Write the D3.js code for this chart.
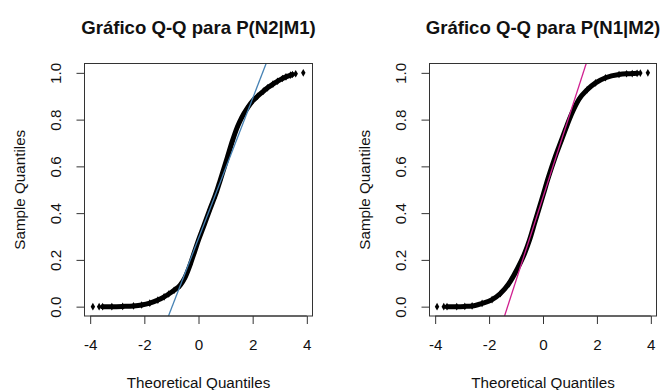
<!DOCTYPE html>
<html>
<head>
<meta charset="utf-8">
<script src="https://cdn.jsdelivr.net/npm/d3@7"></script>
<style>
  body { margin: 0; background: #fff; }
  svg { display: block; font-family: "Liberation Sans", Arial, sans-serif; }
</style>
</head>
<body>
<svg id="chart" width="663" height="390"></svg>
<script>
// Theoretical / sample quantiles

// P(N2|M1)
const theo1 = [-3.90, -3.67, -3.54, -3.2, -2.8, -2.4, -2.1, -1.8, -1.5, -1.27, -1.1, -0.9, -0.674, -0.5, -0.3, -0.16, 0,
    0.21, 0.4, 0.58, 0.674, 0.8, 1.07, 1.25, 1.44, 1.6, 1.81, 2.0, 2.18, 2.4, 2.55, 2.75, 2.92, 3.1, 3.23, 3.4, 3.47, 3.59, 3.87];
const samp1 = [0.000, 0.000, 0.000, 0.000, 0.001, 0.003, 0.007, 0.015, 0.028, 0.042, 0.054, 0.070, 0.092, 0.124, 0.182, 0.230, 0.285,
    0.350, 0.410, 0.464, 0.494, 0.540, 0.640, 0.708, 0.770, 0.810, 0.850, 0.880, 0.900, 0.922, 0.936, 0.952, 0.964, 0.976, 0.983, 0.990, 0.993, 0.996, 1.000];
const quart1 = [0.090, 0.494];   // qqline through 1st / 3rd quartile

// P(N1|M2)
const theo2 = [-3.93, -3.68, -3.56, -3.2, -2.9, -2.63, -2.26, -1.89, -1.58, -1.27, -0.96, -0.674, -0.5, -0.3, 0,
    0.2, 0.46, 0.674, 0.83, 1.08, 1.33, 1.64, 1.95, 2.32, 2.82, 3.1, 3.31, 3.49, 3.61, 3.89];
const samp2 = [0.000, 0.000, 0.000, 0.000, 0.001, 0.003, 0.014, 0.030, 0.056, 0.098, 0.160, 0.230, 0.285, 0.362, 0.476,
    0.553, 0.643, 0.709, 0.757, 0.829, 0.886, 0.928, 0.957, 0.979, 0.993, 0.996, 0.997, 0.998, 0.999, 1.000];
const quart2 = [0.228, 0.709];

const xTicks = [-4, -2, 0, 2, 4];
const yTicks = [0, 0.2, 0.4, 0.6, 0.8, 1.0];

const panels = [
    { title: "Gráfico Q-Q para P(N2|M1)", theo: theo1, samp: samp1, quart: quart1, color: "#4682B4", left: 84.5, right: 312.5 },
    { title: "Gráfico Q-Q para P(N1|M2)", theo: theo2, samp: samp2, quart: quart2, color: "#D02090", left: 429.5, right: 656.5 }
];

const svg = d3.select("#chart");
const plotTop = 63.5, plotBottom = 316;
const q75 = 0.6744898;
const fontSize = 15.2;

panels.forEach((p, i) => {
    const g = svg.append("g");

    const x = d3.scaleLinear().domain([-4.21, 4.21]).range([p.left, p.right]);
    const y = d3.scaleLinear().domain([-0.04, 1.04]).range([plotBottom, plotTop]);

    const clipId = "clip" + i;
    g.append("clipPath").attr("id", clipId)
        .append("rect")
        .attr("x", p.left).attr("y", plotTop)
        .attr("width", p.right - p.left).attr("height", plotBottom - plotTop);

    // points: dense band drawn as a thick line, tails as separate diamonds
    const pts = p.theo.map((t, k) => [t, p.samp[k]]);
    const band = pts.slice(2, pts.length - 2);

    const line = d3.line()
        .x(d => x(d[0]))
        .y(d => y(d[1]))
        .curve(d3.curveMonotoneX);

    g.append("path")
        .attr("d", line(band))
        .attr("fill", "none")
        .attr("stroke", "#000")
        .attr("stroke-width", 5)
        .attr("stroke-linecap", "round")
        .attr("stroke-linejoin", "round");

    g.selectAll(".pt")
        .data(pts)
        .enter().append("path")
        .attr("class", "pt")
        .attr("d", d3.symbol().type(d3.symbolDiamond).size(17))
        .attr("transform", d => `translate(${x(d[0])},${y(d[1])})`)
        .attr("fill", "#000");

    // qqline through the quartiles
    const slope = (p.quart[1] - p.quart[0]) / (2 * q75);
    const icpt = p.quart[0] + slope * q75;
    g.append("line")
        .attr("clip-path", `url(#${clipId})`)
        .attr("x1", x(-5)).attr("y1", y(icpt - 5 * slope))
        .attr("x2", x(5)).attr("y2", y(icpt + 5 * slope))
        .attr("stroke", p.color)
        .attr("stroke-width", 1.3);

    // box
    g.append("rect")
        .attr("x", p.left).attr("y", plotTop)
        .attr("width", p.right - p.left).attr("height", plotBottom - plotTop)
        .attr("fill", "none")
        .attr("stroke", "#333")
        .attr("stroke-width", 1);

    // x axis
    const xAxis = d3.axisBottom(x).tickValues(xTicks).tickSize(8).tickPadding(15)
        .tickFormat(d => d < 0 ? "-" + Math.abs(d) : d);
    const gx = g.append("g").attr("transform", `translate(0,${plotBottom})`).call(xAxis);
    gx.select(".domain").attr("d", `M${x(-4)},0H${x(4)}`).attr("stroke", "#333");
    gx.selectAll(".tick line").attr("stroke", "#333");
    gx.selectAll("text").attr("font-size", fontSize).attr("fill", "#111")
        .attr("font-family", "Liberation Sans, Arial, sans-serif");

    // y axis
    const yAxis = d3.axisLeft(y).tickValues(yTicks).tickSize(8).tickFormat(d3.format(".1f"));
    const gy = g.append("g").attr("transform", `translate(${p.left},0)`).call(yAxis);
    gy.select(".domain").attr("d", `M0,${y(0)}V${y(1)}`).attr("stroke", "#333");
    gy.selectAll(".tick line").attr("stroke", "#333");
    gy.selectAll("text")
        .attr("font-size", fontSize).attr("fill", "#111")
        .attr("font-family", "Liberation Sans, Arial, sans-serif")
        .attr("x", 0).attr("dy", 0)
        .attr("text-anchor", "middle")
        .attr("transform", "translate(-28.5,0) rotate(-90) translate(0,5)");

    const cx = (p.left + p.right) / 2;

    // title
    svg.append("text")
        .attr("x", cx).attr("y", 33.5)
        .attr("text-anchor", "middle")
        .attr("font-size", 18.6)
        .attr("font-weight", "bold")
        .attr("fill", "#111")
        .text(p.title);

    // axis labels
    svg.append("text")
        .attr("x", cx).attr("y", 387.5)
        .attr("text-anchor", "middle")
        .attr("font-size", fontSize)
        .attr("fill", "#111")
        .text("Theoretical Quantiles");

    svg.append("text")
        .attr("transform", `translate(${p.left - 64},${(plotTop + plotBottom) / 2}) rotate(-90)`)
        .attr("dy", 4)
        .attr("text-anchor", "middle")
        .attr("font-size", fontSize)
        .attr("fill", "#111")
        .text("Sample Quantiles");
});
</script>
</body>
</html>
